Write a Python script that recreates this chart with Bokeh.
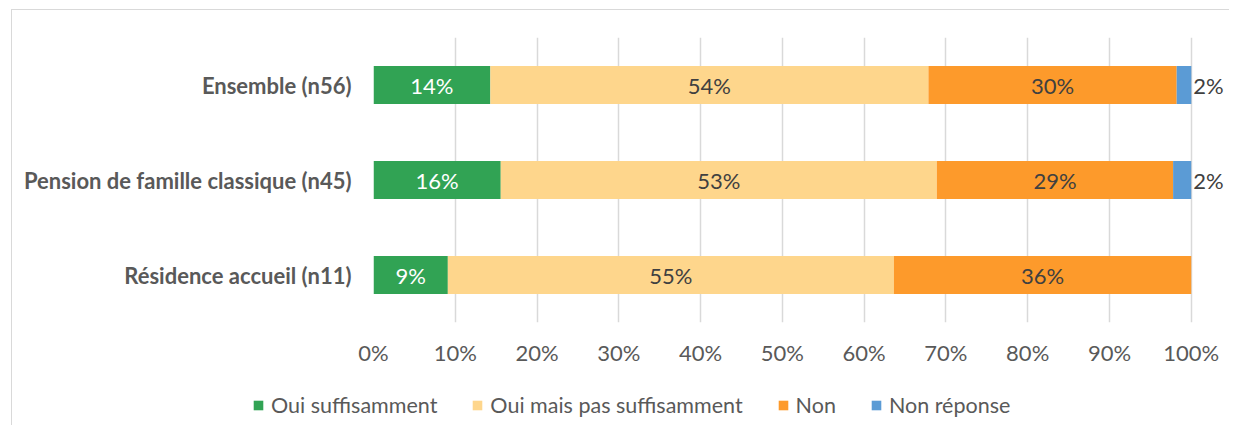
from bokeh.plotting import figure
from bokeh.layouts import column
from bokeh.models import (FactorRange, Range1d, FixedTicker, PrintfTickFormatter,
                          Legend, LegendItem, ColumnDataSource)
from bokeh.core.properties import value
from bokeh.embed import file_html
from bokeh.resources import INLINE

# ---- data ----
categories = ["Ensemble (n56)", "Pension de famille classique (n45)", "Résidence accueil (n11)"]
series = ["Oui suffisamment", "Oui mais pas suffisamment", "Non", "Non réponse"]
oui_suffisamment = [14.29, 15.56, 9.09]
oui_mais_pas = [53.57, 53.33, 54.55]
non = [30.36, 28.89, 36.36]
non_reponse = [1.79, 2.22, 0.0]
colors = ["#31a354", "#fed68c", "#fd9a2b", "#5b9bd5"]
label_colors = ["#ffffff", "#404040", "#404040", "#404040"]
x_ticks = list(range(0, 101, 10))

FONT = "Lato"
FS = "22px"
W = 1218

keys = ["s0", "s1", "s2", "s3"]
data = dict(cat=categories, s0=oui_suffisamment, s1=oui_mais_pas, s2=non, s3=non_reponse)
src = ColumnDataSource(data)

p = figure(y_range=FactorRange(factors=categories[::-1]), x_range=Range1d(0, 104.8),
           width=W, height=376, output_backend="svg", toolbar_location=None,
           min_border_left=361, min_border_right=0, min_border_top=27, min_border_bottom=64)
p.margin = (9, 0, 0, 11)
p.frame_align = False
p.styles = {"border-top": "1px solid #d9d9d9", "border-left": "1px solid #d9d9d9"}
p.outline_line_color = None

renderers = p.hbar_stack(keys, y="cat", height=0.4, color=colors, source=src, line_width=0)

# data labels
all_vals = [oui_suffisamment, oui_mais_pas, non, non_reponse]
for i, vals in enumerate(all_vals):
    xs, ys, ts = [], [], []
    for j, v in enumerate(vals):
        if v <= 0:
            continue
        left = sum(all_vals[k][j] for k in range(i))
        xs.append(left + v if i == 3 else left + v / 2)
        ys.append(categories[j])
        ts.append(f"{round(v)}%")
    if i == 3:
        p.text(x=xs, y=ys, text=ts, text_align="left", text_baseline="middle",
               text_color=label_colors[i], text_font=value(FONT), text_font_size=FS, x_offset=2)
    else:
        p.text(x=xs, y=ys, text=ts, text_align="center", text_baseline="middle",
               text_color=label_colors[i], text_font=value(FONT), text_font_size=FS)

# axes
p.xaxis.ticker = FixedTicker(ticks=x_ticks)
p.xaxis.formatter = PrintfTickFormatter(format="%d%%")
for ax in (p.xaxis, p.yaxis):
    ax.axis_line_color = None
    ax.major_tick_line_color = None
    ax.minor_tick_line_color = None
    ax.major_tick_out = 0
    ax.major_tick_in = 0
    ax.major_label_text_color = "#595959"
    ax.major_label_text_font = FONT
    ax.major_label_text_font_size = FS
p.yaxis.major_label_text_font_style = "bold"
p.yaxis.major_label_standoff = 22
p.xaxis.major_label_standoff = 16
p.xgrid.grid_line_color = "#d9d9d9"
p.xgrid.grid_line_width = 1.5
p.ygrid.grid_line_color = None
p.y_range.range_padding = 0

# legend figure (same series; renderers hidden, only the legend shows)
lf = figure(y_range=FactorRange(factors=categories[::-1]), x_range=Range1d(0, 100),
            width=W, height=40, output_backend="svg", toolbar_location=None,
            x_axis_type=None, y_axis_type=None,
            min_border_left=0, min_border_right=0, min_border_top=0, min_border_bottom=0)
lf.margin = (0, 0, 0, 11)
lf.frame_align = False
lf.styles = {"border-left": "1px solid #d9d9d9"}
lf.outline_line_color = None
lf.grid.grid_line_color = None
lrend = lf.hbar_stack(keys, y="cat", height=0.4, color=colors, source=src, line_width=0)
for r in lrend:
    r.visible = False

legend = Legend(items=[LegendItem(label=s, renderers=[r]) for s, r in zip(series, lrend)],
                location=(240, 7), orientation="horizontal", glyph_width=12, glyph_height=12,
                label_standoff=7, spacing=34, padding=0, margin=0, border_line_color=None,
                background_fill_alpha=0, label_text_font=FONT, label_text_font_size="21.5px",
                label_text_color="#595959", inactive_fill_alpha=0)
lf.add_layout(legend, "center")

layout = column(p, lf, spacing=0)
open("out.html", "w").write(file_html(layout, INLINE))
